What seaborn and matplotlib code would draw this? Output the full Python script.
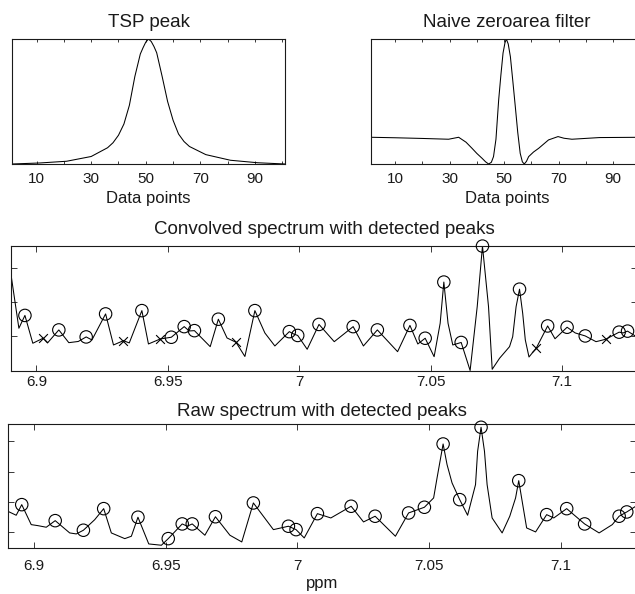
import numpy as np
import pandas as pd
import seaborn as sns
import matplotlib
matplotlib.use('Agg')
import matplotlib.pyplot as plt

# TSP peak (data point index, normalised height)
tsp_x = [1, 11, 21, 30, 36, 38, 40, 42, 44, 46, 48, 49, 50, 51, 52, 53, 54,
         56, 58, 60, 62, 64, 66, 72, 81, 91, 101]
tsp_y = [0.0, 0.008, 0.022, 0.06, 0.13, 0.17, 0.23, 0.32, 0.47, 0.70, 0.88,
         0.93, 0.975, 1.0, 0.98, 0.94, 0.89, 0.70, 0.50, 0.35, 0.24, 0.18,
         0.14, 0.075, 0.03, 0.01, 0.0]

# naive zero-area filter
filt_x = [1, 10, 20, 29.6, 33.3, 36, 38.2, 40, 41.9, 43.2, 44.3, 45.3, 46.1,
          47, 48, 48.8, 49.6, 50.3, 50.8, 51.5, 52.3, 53.2, 54.1, 55, 55.9,
          56.7, 57.4, 58.2, 59, 60.8, 62.7, 66.3, 69.8, 72, 74.9, 85, 101]
filt_y = [0.0, -0.005, -0.012, -0.02, 0.0, -0.05, -0.112, -0.165, -0.214,
          -0.25, -0.272, -0.255, -0.197, -0.02, 0.381, 0.63, 0.857, 0.96,
          1.0, 0.95, 0.82, 0.57, 0.313, 0.05, -0.163, -0.25, -0.272, -0.245,
          -0.197, -0.15, -0.112, -0.027, 0.007, -0.01, -0.02, -0.003, 0.0]

# convolved spectrum
conv_ppm = [6.8905, 6.8933, 6.8956, 6.8986, 6.9025, 6.9042, 6.9085, 6.9123,
            6.9159, 6.9189, 6.9211, 6.9263, 6.9293, 6.9331, 6.9353, 6.9401,
            6.9426, 6.9471, 6.9513, 6.9562, 6.9581, 6.9601, 6.9661, 6.9692,
            6.9725, 6.9759, 6.9793, 6.9831, 6.9869, 6.9907, 6.9962, 6.9978,
            6.9994, 7.0030, 7.0075, 7.0133, 7.0205, 7.0244, 7.0297, 7.0374,
            7.0421, 7.0451, 7.0479, 7.0513, 7.0536, 7.0550, 7.0566, 7.0584,
            7.0616, 7.0650, 7.0677, 7.0697, 7.0720, 7.0734, 7.0762, 7.0800,
            7.0812, 7.0825, 7.0838, 7.0850, 7.0860, 7.0874, 7.0902, 7.0945,
            7.0973, 7.1019, 7.1050, 7.1088, 7.1129, 7.1166, 7.1217, 7.1232,
            7.1249, 7.1278]
conv_val = [2.694, 1.236, 1.609, 0.799, 0.945, 0.808, 1.187, 0.816, 0.851,
            0.983, 0.895, 1.653, 0.749, 0.875, 0.808, 1.749, 0.778, 0.924,
            0.974, 1.283, 1.157, 1.166, 0.700, 1.499, 0.953, 0.828, 0.414,
            1.749, 1.099, 0.720, 1.137, 1.070, 1.026, 0.624, 1.347, 0.845,
            1.283, 0.720, 1.187, 0.554, 1.318, 0.778, 0.945, 0.408, 1.380,
            2.580, 1.380, 0.749, 0.822, 0.006, 1.866, 3.627, 1.866, 0.041,
            0.362, 0.700, 0.990, 1.866, 2.373, 1.673, 0.895, 0.399, 0.662,
            1.303, 0.930, 1.265, 1.099, 1.012, 0.845, 0.915, 1.122, 1.099,
            1.152, 1.012]
conv_peak_ppm = [6.8956, 6.9085, 6.9189, 6.9263, 6.9401, 6.9513, 6.9562,
                 6.9601, 6.9692, 6.9831, 6.9962, 6.9994, 7.0075, 7.0205,
                 7.0297, 7.0421, 7.0479, 7.0550, 7.0616, 7.0697, 7.0838,
                 7.0945, 7.1019, 7.1088, 7.1217, 7.1249]
conv_peak_val = [1.609, 1.187, 0.983, 1.653, 1.749, 0.974, 1.283, 1.166,
                 1.499, 1.749, 1.137, 1.026, 1.347, 1.283, 1.187, 1.318,
                 0.945, 2.580, 0.822, 3.627, 2.373, 1.303, 1.265, 1.012,
                 1.122, 1.152]
conv_rej_ppm = [6.9025, 6.9331, 6.9471, 6.9759, 7.0902, 7.1166]
conv_rej_val = [0.945, 0.875, 0.924, 0.828, 0.662, 0.915]

# raw spectrum
raw_ppm = [6.8901, 6.8933, 6.8954, 6.8990, 6.9015, 6.9047, 6.9081, 6.9136,
           6.9161, 6.9188, 6.9231, 6.9265, 6.9294, 6.9345, 6.9370, 6.9395,
           6.9436, 6.9484, 6.9510, 6.9563, 6.9582, 6.9601, 6.9649, 6.9689,
           6.9744, 6.9789, 6.9833, 6.9909, 6.9966, 6.9995, 7.0026, 7.0076,
           7.0127, 7.0204, 7.0251, 7.0295, 7.0372, 7.0422, 7.0482, 7.0517,
           7.0530, 7.0553, 7.0568, 7.0587, 7.0616, 7.0646, 7.0676, 7.0684,
           7.0697, 7.0710, 7.0720, 7.0739, 7.0777, 7.0806, 7.0828, 7.0840,
           7.0853, 7.0870, 7.0904, 7.0946, 7.0973, 7.1022, 7.1090, 7.1145,
           7.1195, 7.1221, 7.1250, 7.1284]
raw_val = [1.692, 1.560, 1.910, 1.251, 1.218, 1.165, 1.382, 0.977, 0.944,
           1.066, 1.415, 1.778, 0.977, 0.789, 0.868, 1.495, 0.614, 0.571,
           0.789, 1.274, 1.198, 1.274, 0.901, 1.511, 0.901, 0.680, 1.966,
           1.086, 1.198, 1.086, 0.812, 1.613, 1.471, 1.857, 1.340, 1.528,
           0.868, 1.636, 1.824, 2.131, 2.790, 3.911, 3.229, 2.625, 2.075,
           1.560, 2.570, 3.670, 4.462, 3.670, 2.570, 1.471, 0.977, 1.528,
           2.131, 2.701, 2.022, 1.142, 1.010, 1.580, 1.471, 1.778, 1.274,
           0.977, 1.251, 1.528, 1.669, 1.857]
raw_peak_ppm = [6.8954, 6.9081, 6.9188, 6.9265, 6.9395, 6.9510, 6.9563,
                6.9601, 6.9689, 6.9833, 6.9966, 6.9995, 7.0076, 7.0204,
                7.0295, 7.0422, 7.0482, 7.0553, 7.0616, 7.0697, 7.0840,
                7.0946, 7.1022, 7.1090, 7.1221, 7.1250]
raw_peak_val = [1.910, 1.382, 1.066, 1.778, 1.495, 0.789, 1.274, 1.274,
                1.511, 1.966, 1.198, 1.086, 1.613, 1.857, 1.528, 1.636,
                1.824, 3.911, 2.075, 4.462, 2.701, 1.580, 1.778, 1.274,
                1.528, 1.669]

ppm_ticks = [6.9, 6.95, 7.0, 7.05, 7.1]
ppm_labels = ['6.9', '6.95', '7', '7.05', '7.1']
dp_ticks = list(range(10, 101, 10))
dp_labels = ['10', '', '30', '', '50', '', '70', '', '90', '']

sns.set_style('ticks')
plt.rcParams['font.family'] = ['Liberation Sans', 'DejaVu Sans']
plt.rcParams['axes.linewidth'] = 0.8
ink = '#1a1a1a'

fig = plt.figure(figsize=(6.35, 5.94), dpi=100)
W, H = 635, 594


def box(l, t, r, b):
    return [l / W, 1 - b / H, (r - l) / W, (b - t) / H]


def style(ax, ticklen, pad):
    for s in ax.spines.values():
        s.set_visible(True)
        s.set_color(ink)
    ax.tick_params(direction='in', top=True, right=True, length=ticklen,
                   width=0.6, colors=ink, labelsize=11, pad=pad)
    ax.set_xlabel('')
    ax.set_ylabel('')


def curve(ax, x, y):
    sns.lineplot(x=x, y=y, ax=ax, color='black', linewidth=0.75,
                 sort=False, estimator=None)


# top left: TSP peak
ax1 = fig.add_axes(box(12, 39, 285, 164))
curve(ax1, tsp_x, tsp_y)
ax1.set_xlim(1, 101)
ax1.set_ylim(min(tsp_y), max(tsp_y))
ax1.set_xticks(dp_ticks, dp_labels)
ax1.set_yticks([])
style(ax1, 2.5, 6)
ax1.set_title('TSP peak', fontsize=13.5, pad=8.5, color=ink)
ax1.set_xlabel('Data points', fontsize=12, labelpad=3, color=ink)

# top right: filter
ax2 = fig.add_axes(box(370.7, 39, 643, 164))
curve(ax2, filt_x, filt_y)
ax2.set_xlim(1, 101)
ax2.set_ylim(min(filt_y), max(filt_y))
ax2.set_xticks(dp_ticks, dp_labels)
ax2.set_yticks([])
style(ax2, 2.5, 6)
ax2.set_title('Naive zeroarea filter', fontsize=13.5, pad=8.5, color=ink)
ax2.set_xlabel('Data points', fontsize=12, labelpad=3, color=ink)

# middle: convolved spectrum
ax3 = fig.add_axes(box(11, 246, 637, 370.7))
curve(ax3, conv_ppm, conv_val)
sns.scatterplot(x=conv_peak_ppm, y=conv_peak_val, ax=ax3, marker='o', s=80,
                facecolor='none', edgecolor='black', linewidth=0.8,
                clip_on=False, zorder=3)
sns.scatterplot(x=conv_rej_ppm, y=conv_rej_val, ax=ax3, marker='x', s=40,
                color='black', linewidth=0.8, zorder=3)
ax3.set_xlim(6.8903, 7.1285)
ax3.set_ylim(0, 3.63)
ax3.set_xticks(ppm_ticks, ppm_labels)
ax3.set_yticks([0, 1, 2, 3], [])
style(ax3, 4, 3)
ax3.set_title('Convolved spectrum with detected peaks', fontsize=13.5,
              pad=9, color=ink)

# bottom: raw spectrum
ax4 = fig.add_axes(box(8.3, 424, 636, 548))
curve(ax4, raw_ppm, raw_val)
sns.scatterplot(x=raw_peak_ppm, y=raw_peak_val, ax=ax4, marker='o', s=80,
                facecolor='none', edgecolor='black', linewidth=0.8,
                clip_on=False, zorder=3)
ax4.set_xlim(6.8903, 7.1285)
ax4.set_ylim(0.48, 4.57)
ax4.set_xticks(ppm_ticks, ppm_labels)
ax4.set_yticks([1, 2, 3, 4], [])
style(ax4, 4, 8)
ax4.set_title('Raw spectrum with detected peaks', fontsize=13.5,
              pad=5.5, color=ink)
ax4.set_xlabel('ppm', fontsize=12, labelpad=2, color=ink)

fig.savefig('out.png', dpi=100)
